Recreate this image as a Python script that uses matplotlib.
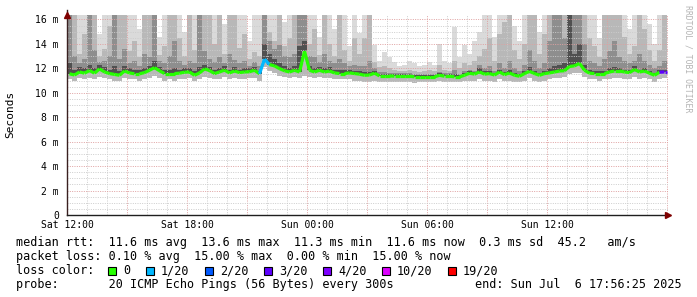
import numpy as np
import pandas as pd
import matplotlib
matplotlib.use('Agg')
import matplotlib.pyplot as plt
import matplotlib.dates as mdates
from matplotlib.collections import LineCollection
from matplotlib.patches import Rectangle
from matplotlib.ticker import MultipleLocator, FuncFormatter

plt.rcParams['font.family'] = ['DejaVu Sans Mono']

# =====================================================================
# Data: 15-minute columns, Sat 5 Jul 2025 12:00 -> Sun 6 Jul 18:00 (ms)
# =====================================================================
start_time = '2025-07-05 12:00'
step_minutes = 15

median_ms = [
    11.55, 11.45, 11.70, 11.60, 11.82, 11.60, 11.95, 11.70, 11.57, 11.50,
    11.43, 11.78, 11.62, 11.55, 11.55, 11.65, 11.84, 12.05, 11.80, 11.57,
    11.57, 11.57, 11.60, 11.68, 11.70, 11.43, 11.62, 11.95, 11.82, 11.57,
    11.70, 11.85, 11.62, 11.78, 11.65, 11.70, 11.72, 11.84, 11.55, 12.75,
    12.30, 12.20, 11.97, 11.80, 11.70, 11.84, 11.70, 13.40, 11.84, 11.70,
    11.84, 11.70, 11.78, 11.62, 11.57, 11.57, 11.62, 11.57, 11.52, 11.43,
    11.45, 11.60, 11.38, 11.38, 11.38, 11.35, 11.35, 11.35, 11.35, 11.30,
    11.30, 11.30, 11.30, 11.30, 11.43, 11.35, 11.35, 11.30, 11.30, 11.43,
    11.60, 11.52, 11.70, 11.52, 11.57, 11.45, 11.70, 11.48, 11.62, 11.43,
    11.35, 11.57, 11.75, 11.57, 11.43, 11.57, 11.62, 11.70, 11.78, 11.80,
    12.15, 12.20, 12.40, 11.84, 11.60, 11.57, 11.57, 11.57, 11.70, 11.78,
    11.78, 11.70, 11.65, 11.90, 11.70, 11.78, 11.60, 11.43, 11.68, 11.70,
]

# lowest ping of each column
smoke_lo = [
    11.1, 11.0, 11.2, 11.1, 11.2, 11.1, 11.3, 11.2, 11.1, 11.0,
    11.0, 11.2, 11.1, 11.1, 11.0, 11.1, 11.2, 11.4, 11.2, 11.0,
    11.1, 11.0, 11.1, 11.1, 11.2, 11.0, 11.1, 11.3, 11.2, 11.1,
    11.1, 11.3, 11.1, 11.2, 11.1, 11.1, 11.2, 11.2, 11.0, 12.1,
    11.8, 11.6, 11.4, 11.3, 11.2, 11.3, 11.2, 11.4, 11.3, 11.2,
    11.3, 11.2, 11.2, 11.1, 11.1, 11.1, 11.1, 11.0, 11.0, 10.9,
    10.9, 11.0, 10.9, 10.9, 10.9, 10.9, 10.9, 10.9, 10.9, 10.8,
    10.9, 10.9, 10.9, 10.9, 11.0, 10.9, 10.9, 10.9, 10.9, 11.0,
    11.0, 11.0, 11.1, 11.0, 11.0, 10.9, 11.1, 11.0, 11.0, 10.9,
    10.9, 11.0, 11.2, 11.0, 10.9, 11.0, 11.1, 11.2, 11.2, 11.3,
    11.5, 11.6, 11.6, 11.3, 11.1, 11.1, 11.0, 11.1, 11.1, 11.2,
    11.2, 11.1, 11.1, 11.3, 11.1, 11.2, 11.1, 10.9, 11.1, 11.2,
]

# outer (lightest) smoke top
smoke_top1 = [
    16.4, 16.4, 16.4, 16.4, 16.4, 16.4, 14.8, 16.4, 16.4, 16.4,
    16.4, 16.4, 16.4, 16.4, 15.2, 16.4, 16.4, 16.4, 14.6, 16.4,
    16.4, 16.4, 16.4, 15.0, 16.4, 16.4, 16.4, 16.4, 16.4, 16.4,
    16.4, 15.6, 16.4, 16.4, 16.4, 16.4, 14.2, 16.4, 16.4, 16.4,
    16.4, 16.4, 16.4, 15.8, 16.4, 16.4, 16.4, 16.4, 16.4, 16.4,
    14.6, 16.4, 16.4, 15.2, 16.4, 16.4, 13.8, 16.4, 14.9, 16.4,
    16.4, 13.9, 12.6, 13.3, 12.9, 12.5, 12.2, 12.3, 12.6, 12.4,
    12.2, 12.3, 12.5, 12.3, 14.0, 12.6, 12.4, 15.4, 12.9, 13.9,
    13.2, 14.2, 15.0, 16.4, 16.4, 14.6, 16.4, 16.4, 16.4, 15.5,
    14.2, 16.4, 16.4, 16.4, 15.0, 16.4, 16.4, 16.4, 16.4, 16.4,
    16.4, 16.4, 16.4, 16.4, 16.4, 16.4, 14.5, 16.4, 16.4, 16.4,
    16.4, 16.4, 15.2, 16.4, 16.4, 16.4, 15.6, 14.0, 16.4, 16.4,
]

smoke_top2 = [
    16.4, 16.4, 13.2, 14.8, 16.4, 16.4, 13.0, 13.6, 15.5, 16.4,
    16.4, 16.4, 13.4, 14.2, 12.9, 16.4, 16.4, 16.4, 13.1, 13.8,
    16.4, 16.4, 14.5, 13.0, 16.4, 13.5, 16.4, 16.4, 16.4, 14.0,
    16.4, 13.2, 16.4, 16.4, 13.7, 14.8, 12.8, 13.3, 13.0, 16.4,
    15.0, 14.2, 16.4, 13.8, 14.5, 16.4, 16.4, 16.4, 14.0, 15.2,
    13.1, 16.4, 14.0, 13.0, 16.4, 13.5, 12.6, 14.5, 13.2, 14.5,
    16.4, 12.5, 12.1, 12.2, 12.0, 11.9, 11.8, 11.8, 11.9, 11.8,
    11.7, 11.8, 11.9, 11.8, 12.3, 11.9, 11.8, 12.6, 12.0, 12.4,
    12.3, 12.6, 13.0, 13.6, 14.5, 12.6, 14.8, 15.8, 16.4, 13.5,
    12.8, 14.0, 16.4, 16.4, 13.2, 14.8, 16.4, 16.4, 16.4, 16.4,
    16.4, 16.4, 16.4, 16.4, 14.5, 13.8, 12.9, 16.4, 16.4, 16.4,
    16.4, 14.6, 13.2, 13.8, 16.4, 15.2, 13.5, 12.6, 13.5, 16.4,
]

smoke_top3 = [
    16.4, 13.0, 12.4, 12.8, 16.4, 13.5, 12.5, 12.6, 13.0, 16.4,
    12.8, 13.6, 12.4, 12.6, 12.2, 13.2, 12.9, 16.4, 12.6, 12.4,
    13.0, 14.2, 12.6, 12.3, 12.6, 12.4, 16.4, 13.4, 12.8, 12.5,
    12.9, 12.4, 13.2, 12.7, 12.4, 12.6, 12.2, 12.5, 12.2, 16.4,
    14.2, 13.6, 13.9, 13.0, 12.9, 13.2, 16.4, 16.4, 13.0, 12.9,
    12.5, 13.2, 12.6, 12.4, 12.8, 12.4, 12.2, 12.3, 12.2, 12.2,
    12.6, 12.0, 11.7, 11.7, 11.6, 11.6, 11.6, 11.6, 11.6, 11.5,
    11.5, 11.5, 11.5, 11.5, 11.7, 11.6, 11.6, 11.9, 11.5, 11.8,
    11.9, 11.8, 12.3, 12.0, 12.2, 11.8, 12.4, 12.0, 12.6, 12.0,
    11.8, 12.3, 13.5, 12.6, 12.0, 12.4, 14.2, 16.4, 16.4, 14.5,
    16.4, 16.4, 16.4, 14.0, 12.6, 12.4, 12.2, 12.8, 13.4, 14.2,
    12.9, 12.6, 12.4, 12.6, 13.2, 12.6, 12.3, 12.0, 12.2, 12.6,
]

# darkest core just above the median
smoke_top4 = [
    12.4, 11.9, 12.1, 12.0, 12.3, 12.0, 12.3, 12.1, 11.9, 12.2,
    11.8, 12.2, 12.0, 11.9, 11.9, 12.0, 12.2, 12.6, 12.1, 11.9,
    11.9, 12.0, 11.9, 12.0, 12.0, 11.8, 12.1, 12.3, 12.1, 11.9,
    12.0, 12.2, 11.9, 12.1, 11.9, 12.0, 12.0, 12.1, 11.8, 14.0,
    13.2, 12.8, 12.4, 12.2, 12.0, 12.2, 13.8, 14.2, 12.2, 12.0,
    12.1, 12.0, 12.1, 11.9, 11.9, 11.9, 11.9, 11.8, 11.8, 11.7,
    11.7, 11.8, 11.55, 11.55, 11.5, 11.5, 11.5, 11.5, 11.5, 11.45,
    11.45, 11.45, 11.45, 11.45, 11.6, 11.5, 11.5, 11.5, 11.45, 11.6,
    11.8, 11.7, 12.0, 11.8, 11.8, 11.6, 11.9, 11.7, 11.9, 11.6,
    11.5, 11.8, 12.1, 11.8, 11.6, 11.8, 12.0, 12.2, 12.3, 12.4,
    16.4, 13.2, 14.0, 12.3, 11.9, 11.8, 11.8, 11.8, 12.0, 12.1,
    12.0, 11.9, 11.9, 12.2, 11.9, 12.0, 11.8, 11.6, 11.9, 11.9,
]

# columns with packet loss and number of lost pings (of 20)
loss_steps = [39, 40, 119]
loss_pings = [1, 1, 3]

loss_thresholds = [0, 1, 2, 3, 4, 10, 19]
loss_labels = ['0', '1/20', '2/20', '3/20', '4/20', '10/20', '19/20']
loss_colors = ['#26ff00', '#00b8ff', '#0059ff', '#5e00ff', '#7e00ff', '#dd00ff', '#ff0000']

legend_rtt = 'median rtt:  11.6 ms avg  13.6 ms max  11.3 ms min  11.6 ms now  0.3 ms sd  45.2   am/s'
legend_loss = 'packet loss: 0.10 % avg  15.00 % max  0.00 % min  15.00 % now'
legend_probe = 'probe:       20 ICMP Echo Pings (56 Bytes) every 300s'
legend_end = 'end: Sun Jul  6 17:56:25 2025'

# =====================================================================
# Build time axis
# =====================================================================
n = len(median_ms)
edges = pd.date_range(start_time, periods=n + 1, freq=f'{step_minutes}min')
x_edges = mdates.date2num(edges.to_pydatetime())
x_mid = (x_edges[:-1] + x_edges[1:]) / 2
x_end = x_edges[-1] + 3 / 1440

loss = np.zeros(n, dtype=int)
loss[loss_steps] = loss_pings

def loss_color(c):
    col = loss_colors[0]
    for thr, cc in zip(loss_thresholds, loss_colors):
        if c >= thr:
            col = cc
    return col

W, H = 697, 297
fig = plt.figure(figsize=(W / 100, H / 100), dpi=100)
ax = fig.add_axes([67 / W, 1 - 215 / H, 601 / W, 200.5 / H])

# =====================================================================
# Smoke
# =====================================================================
def step_vals(v):
    v = np.asarray(v, dtype=float)
    return np.append(v, v[-1])

lo = step_vals(smoke_lo)
med = step_vals(median_ms)
ax.fill_between(x_edges, lo, step_vals(smoke_top1), step='post', color='#dadada', lw=0, zorder=1)
ax.fill_between(x_edges, lo, step_vals(smoke_top2), step='post', color='#b8b8b8', lw=0, zorder=1.1)
ax.fill_between(x_edges, med, step_vals(smoke_top3), step='post', color='#8e8e8e', lw=0, zorder=1.2)
ax.fill_between(x_edges, med, step_vals(smoke_top4), step='post', color='#505050', lw=0, zorder=1.3)

# =====================================================================
# Median line coloured by loss
# =====================================================================
pts = np.column_stack([np.append(x_mid, x_edges[-1]), np.append(median_ms, median_ms[-1])])
segs = [pts[i:i + 2] for i in range(len(pts) - 1)]
seg_colors = [loss_color(loss[min(i + 1, n - 1)]) for i in range(len(segs))]
ax.add_collection(LineCollection(segs, colors=seg_colors, linewidths=2.3, zorder=3, capstyle='butt'))

# =====================================================================
# Axes, grid
# =====================================================================
ax.set_xlim(x_edges[0], x_end)
ax.set_ylim(0, 16.4)

ax.yaxis.set_major_locator(MultipleLocator(2))
ax.yaxis.set_minor_locator(MultipleLocator(0.5))
ax.yaxis.set_major_formatter(FuncFormatter(lambda v, p: '0' if v == 0 else f'{v:g} m'))
ax.xaxis.set_major_locator(mdates.HourLocator(byhour=range(0, 24, 3)))
ax.xaxis.set_minor_locator(mdates.HourLocator())

def xfmt(v, p):
    d = mdates.num2date(v)
    if d.hour % 6 != 0 or v > x_edges[-1] - 1e-6:
        return ''
    return d.strftime('%a %H:%M')
ax.xaxis.set_major_formatter(FuncFormatter(xfmt))

ax.set_axisbelow(False)
dots = (0, (1, 1.4))
ax.grid(which='minor', color='#cccccc', lw=0.7, ls=dots)
ax.grid(which='major', color='#dfa0a0', lw=0.7, ls=dots)

ax.tick_params(which='both', length=0, labelsize=7, colors='#000000')
ax.tick_params(axis='x', pad=3.5)
ax.tick_params(axis='y', pad=5.8)

for s in ['top', 'right']:
    ax.spines[s].set_visible(False)
ax.spines['left'].set_color('#3a2020')
ax.spines['bottom'].set_color('#1f1f1f')
ax.spines['left'].set_linewidth(1.0)
ax.spines['bottom'].set_linewidth(1.0)
ax.spines['left'].set_zorder(4)
ax.spines['bottom'].set_zorder(4)

# arrows
ax.plot([0], [1.0], marker='^', ms=4.5, color='#7f0000', transform=ax.transAxes, clip_on=False, zorder=5)
ax.plot([1.0], [0], marker='>', ms=4.5, color='#7f0000', transform=ax.transAxes, clip_on=False, zorder=5)
ax.plot([0, 0], [1.0, 1.02], color='#3a2020', lw=1.0, transform=ax.transAxes, clip_on=False, zorder=4)

# =====================================================================
# Texts
# =====================================================================
fig.text(10 / W, 1 - 114 / H, 'Seconds', rotation=90, ha='center', va='center', fontsize=8)
fig.text(688 / W, 1 - 5 / H, 'RRDTOOL / TOBI OETIKER', rotation=270, ha='center', va='top',
         fontsize=5.9, color='#b4b4b4')

fs = 8.5
fig.text(16 / W, 1 - 246 / H, legend_rtt, fontsize=fs, va='baseline')
fig.text(16 / W, 1 - 260 / H, legend_loss, fontsize=fs, va='baseline')
fig.text(16 / W, 1 - 274 / H, 'loss color:', fontsize=fs, va='baseline')
fig.text(16 / W, 1 - 288 / H, legend_probe, fontsize=fs, va='baseline')
fig.text(682 / W, 1 - 288 / H, legend_end, fontsize=fs, va='baseline', ha='right')

bx = 108
for lab, col in zip(loss_labels, loss_colors):
    fig.patches.append(Rectangle((bx / W, 1 - 274.5 / H), 8 / W, 8 / H, transform=fig.transFigure,
                                 facecolor=col, edgecolor='#000000', lw=0.8))
    fig.text((bx + 15) / W, 1 - 274 / H, lab, fontsize=fs, va='baseline')
    bx += 31 + 7 * len(lab)

fig.savefig('out.png', dpi=100)
